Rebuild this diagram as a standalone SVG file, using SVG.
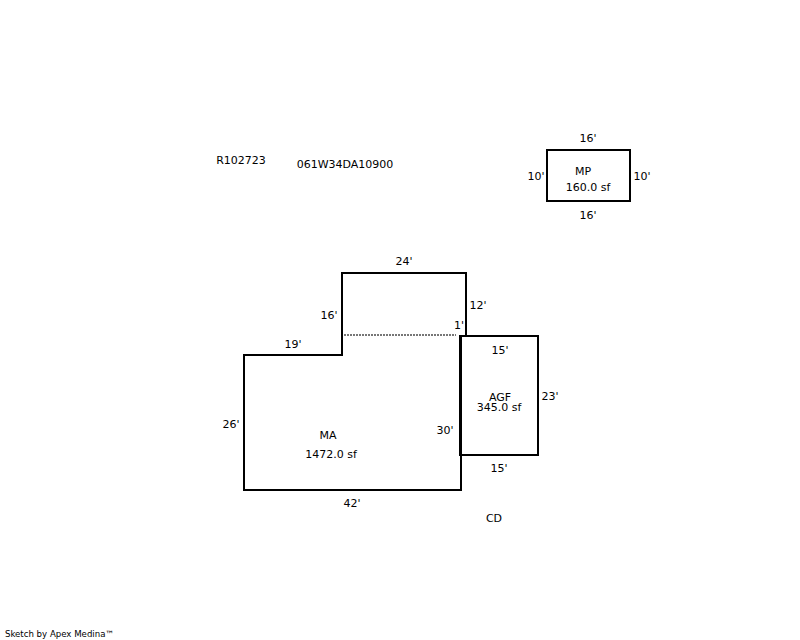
<svg xmlns="http://www.w3.org/2000/svg" width="800" height="640" viewBox="0 0 800 640">
<style>
text{font-family:"DejaVu Sans",Verdana,sans-serif;font-size:11px;fill:#000;text-anchor:middle}
.o{fill:none;stroke:#000;stroke-width:2}
</style>
<rect width="800" height="640" fill="#fff"/>
<g id="connectors">
<path d="M344 335H456" fill="none" stroke="#777" stroke-width="2" stroke-dasharray="2 1"/>
</g>
<g id="MA"><path class="o" d="M466 336V273H342V355H244V490H461V336"/>
<text x="328" y="439">MA</text><text x="331" y="458">1472.0 sf</text></g>
<g id="AGF"><rect class="o" x="461" y="336" width="77" height="119"/>
<path d="M460.5 335V456" fill="none" stroke="#000" stroke-width="3"/>
<text x="500" y="401">AGF</text><text x="499" y="411">345.0 sf</text></g>
<g id="MP"><rect class="o" x="547" y="150" width="83" height="51"/>
<text x="583" y="175">MP</text><text x="588" y="191">160.0 sf</text></g>
<g id="labels">
<text x="241" y="164">R102723</text><text x="345" y="168">061W34DA10900</text>
<text x="588" y="142">16'</text><text x="536" y="180">10'</text><text x="642" y="180">10'</text><text x="588" y="219">16'</text>
<text x="404" y="265">24'</text><text x="478" y="309">12'</text><text x="329" y="319">16'</text><text x="459" y="329">1'</text>
<text x="293" y="348">19'</text><text x="500" y="354">15'</text><text x="550" y="400">23'</text><text x="231" y="428">26'</text>
<text x="445" y="434">30'</text><text x="499" y="472">15'</text><text x="352" y="507">42'</text><text x="494" y="522">CD</text>
<text x="59.5" y="637" style="font-size:8.6px">Sketch by Apex Medina™</text>
</g>
</svg>
